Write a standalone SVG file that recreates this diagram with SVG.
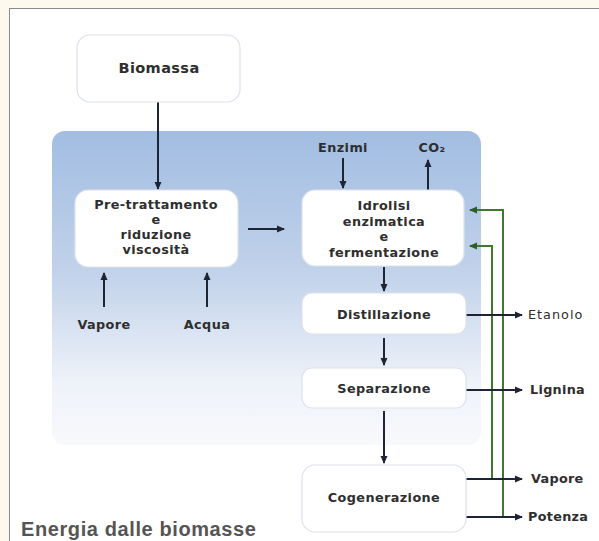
<svg xmlns="http://www.w3.org/2000/svg" width="599" height="541" viewBox="0 0 599 541">
<defs>
<linearGradient id="blue" x1="0" y1="0" x2="0" y2="1">
<stop offset="0" stop-color="#a2bde2"/>
<stop offset="0.45" stop-color="#c1d2ea"/>
<stop offset="0.8" stop-color="#eef2f9"/>
<stop offset="1" stop-color="#f8f9fc"/>
</linearGradient>
<marker id="ah" markerWidth="8" markerHeight="8" refX="7" refY="4" orient="auto" markerUnits="userSpaceOnUse">
<path d="M0,0.5 L8,4 L0,7.5 Z" fill="#1d2433"/>
</marker>
<marker id="ahg" markerWidth="8" markerHeight="8" refX="7" refY="4" orient="auto" markerUnits="userSpaceOnUse">
<path d="M0,0.5 L8,4 L0,7.5 Z" fill="#2f5a2a"/>
</marker>
</defs>
<style>
.box{fill:#ffffff;stroke:#dde2ea;stroke-width:1.2}
.t{font-family:"DejaVu Sans","Open Sans",sans-serif;font-weight:700;font-size:12.8px;letter-spacing:0.4px;fill:#2e2e2e;text-anchor:middle}
.tl{font-family:"DejaVu Sans","Open Sans",sans-serif;font-weight:700;font-size:12.8px;letter-spacing:0.3px;fill:#2e2e2e;text-anchor:start}
.c{stroke:#1d2433;stroke-width:2;fill:none}
.g{stroke:#3d7a2e;stroke-width:2;fill:none}
</style>
<rect x="0" y="0" width="599" height="541" fill="#fdf9ee"/>
<rect x="9.5" y="8.5" width="600" height="540" fill="#ffffff" stroke="#8a8a8a" stroke-width="1"/>
<rect x="52" y="131" width="429" height="314" rx="13" fill="url(#blue)"/>

<g id="connectors">
<line class="c" x1="158" y1="102" x2="158" y2="189" marker-end="url(#ah)"/>
<line class="c" x1="248" y1="229" x2="284" y2="229" marker-end="url(#ah)"/>
<line class="c" x1="104" y1="307" x2="104" y2="273" marker-end="url(#ah)"/>
<line class="c" x1="207" y1="307" x2="207" y2="273" marker-end="url(#ah)"/>
<line class="c" x1="343" y1="158" x2="343" y2="188" marker-end="url(#ah)"/>
<line class="c" x1="428" y1="191" x2="428" y2="160" marker-end="url(#ah)"/>
<line class="c" x1="384" y1="267" x2="384" y2="291" marker-end="url(#ah)"/>
<line class="c" x1="384" y1="338" x2="384" y2="365" marker-end="url(#ah)"/>
<line class="c" x1="384" y1="411" x2="384" y2="463" marker-end="url(#ah)"/>
<polyline class="g" points="492,479 492,246 470,246" marker-end="url(#ahg)"/>
<polyline class="g" points="503,517 503,210 470,210" marker-end="url(#ahg)"/>
<line class="c" x1="466" y1="315" x2="522" y2="315" marker-end="url(#ah)"/>
<line class="c" x1="466" y1="390" x2="522" y2="390" marker-end="url(#ah)"/>
<line class="c" x1="466" y1="479" x2="522" y2="479" marker-end="url(#ah)"/>
<line class="c" x1="466" y1="517" x2="522" y2="517" marker-end="url(#ah)"/>
</g>

<g id="biomassa">
<rect class="box" x="77" y="35" width="163" height="67" rx="13"/>
<text class="t" x="159" y="73" style="font-size:14.5px">Biomassa</text>
</g>
<g id="pretrattamento">
<rect class="box" x="75" y="190" width="163" height="77" rx="13"/>
<text class="t" x="156" y="209">Pre-trattamento</text>
<text class="t" x="156" y="224">e</text>
<text class="t" x="156" y="239">riduzione</text>
<text class="t" x="156" y="254">viscosità</text>
</g>
<g id="idrolisi">
<rect class="box" x="302" y="190" width="162" height="76" rx="13"/>
<text class="t" x="384" y="210">Idrolisi</text>
<text class="t" x="384" y="226">enzimatica</text>
<text class="t" x="384" y="241">e</text>
<text class="t" x="384" y="257">fermentazione</text>
</g>
<g id="distillazione">
<rect class="box" x="302" y="293" width="164" height="41" rx="10"/>
<text class="t" x="384" y="319">Distillazione</text>
</g>
<g id="separazione">
<rect class="box" x="302" y="368" width="164" height="40" rx="10"/>
<text class="t" x="384" y="393">Separazione</text>
</g>
<g id="cogenerazione">
<rect class="box" x="302" y="465" width="164" height="67" rx="13"/>
<text class="t" x="384" y="502">Cogenerazione</text>
</g>
<g id="labels">
<text class="t" x="343" y="152">Enzimi</text>
<text class="t" x="432" y="152">CO₂</text>
<text class="t" x="104" y="329">Vapore</text>
<text class="t" x="207" y="329">Acqua</text>
<text class="tl" x="528" y="319" style="font-weight:400;letter-spacing:1px">Etanolo</text>
<text class="tl" x="530" y="394">Lignina</text>
<text class="tl" x="531" y="483">Vapore</text>
<text class="tl" x="528" y="521">Potenza</text>
</g>
<text x="21" y="536" font-family="Liberation Sans, Arial, sans-serif" font-weight="bold" font-size="20" letter-spacing="0.6" fill="#555555">Energia dalle biomasse</text>
</svg>
